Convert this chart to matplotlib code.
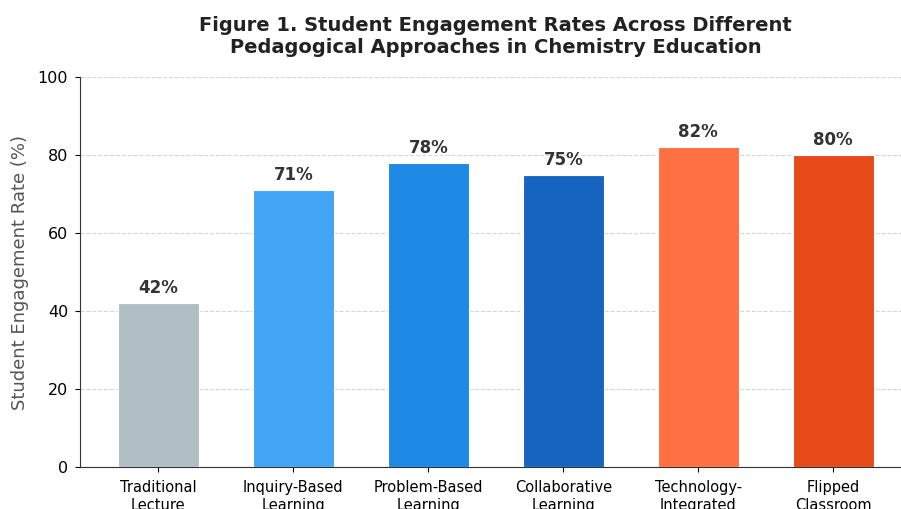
import numpy as np
import matplotlib
matplotlib.use('Agg')
import matplotlib.pyplot as plt

approaches = ['Traditional\nLecture', 'Inquiry-Based\nLearning', 'Problem-Based\nLearning',
              'Collaborative\nLearning', 'Technology-\nIntegrated', 'Flipped\nClassroom']
engagement = [42, 71, 78, 75, 82, 80]
bar_colors = ['#B0BEC5', '#42A5F5', '#1E88E5', '#1565C0', '#FF7043', '#E64A19']
y_ticks = [0, 20, 40, 60, 80, 100]

fig = plt.figure(figsize=(9.01, 5.09), dpi=100)
ax = fig.add_axes([80 / 901, 42 / 509, 831.6 / 901, 390 / 509])

x = np.arange(len(approaches))
bars = ax.bar(x, engagement, width=0.6, color=bar_colors, edgecolor='white', linewidth=0.8, zorder=3)

# value labels above each bar
for rect, val in zip(bars, engagement):
    ax.text(rect.get_x() + rect.get_width() / 2, val + 1.5, f'{val}%',
            ha='center', va='bottom', fontsize=12, fontweight='bold', color='#333333')

ax.set_ylim(0, 100)
ax.set_yticks(y_ticks)
ax.set_xticks(x)
ax.set_xticklabels(approaches, fontsize=10.5)
ax.tick_params(axis='x', pad=6)
ax.tick_params(axis='y', labelsize=11.5, pad=5)
ax.set_ylabel('Student Engagement Rate (%)', fontsize=13, color='#555555', labelpad=6)
ax.set_title('Figure 1. Student Engagement Rates Across Different\nPedagogical Approaches in Chemistry Education',
             fontsize=14, fontweight='bold', color='#222222', pad=17)

ax.grid(axis='y', linestyle='--', color='#cccccc', alpha=0.8, zorder=0)
ax.spines['top'].set_visible(False)
ax.spines['right'].set_visible(False)
ax.spines['left'].set_color('#333333')
ax.spines['bottom'].set_color('#333333')

fig.savefig('out.png', dpi=100)
